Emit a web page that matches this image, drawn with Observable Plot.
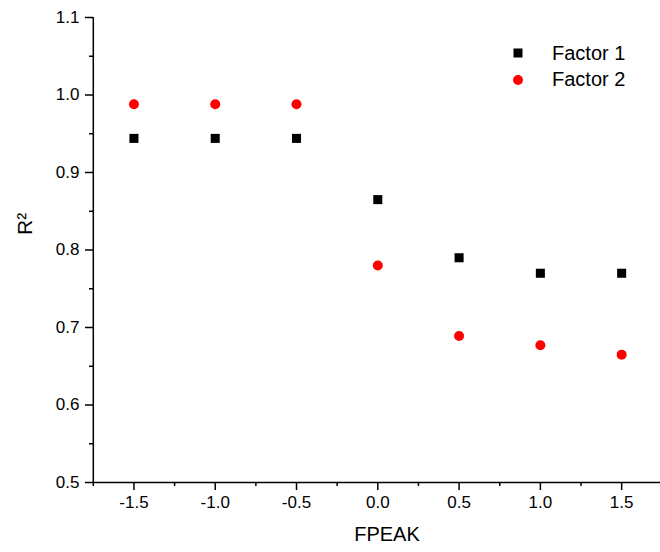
<!DOCTYPE html>
<html>
<head>
<meta charset="utf-8">
<script src="https://cdn.jsdelivr.net/npm/d3@7"></script>
<script src="https://cdn.jsdelivr.net/npm/@observablehq/plot@0.6"></script>
<style>
  html, body { margin: 0; padding: 0; background: #fff; }
  #wrap { position: relative; width: 660px; height: 552px; overflow: hidden; font-family: "Liberation Sans", Arial, sans-serif; }
  #legend { position: absolute; left: 508px; top: 40px; font-size: 20px; color: #000; }
  #legend .row { display: flex; align-items: center; height: 26.5px; }
  #legend svg { width: 20px; height: 20px; margin-right: 24px; }
</style>
</head>
<body>
<div id="wrap"></div>
<script>
const fpeak = [-1.5, -1.0, -0.5, 0.0, 0.5, 1.0, 1.5];
const factor1 = [0.944, 0.944, 0.944, 0.865, 0.790, 0.770, 0.770];
const factor2 = [0.988, 0.988, 0.988, 0.780, 0.689, 0.677, 0.665];
const seriesNames = ["Factor 1", "Factor 2"];
const seriesColors = ["#000000", "#ff0000"];
const xMajor = [-1.5, -1.0, -0.5, 0.0, 0.5, 1.0, 1.5];
const xMinor = [-1.75, -1.25, -0.75, -0.25, 0.25, 0.75, 1.25];
const yMajor = [0.5, 0.6, 0.7, 0.8, 0.9, 1.0, 1.1];
const yMinor = [0.55, 0.65, 0.75, 0.85, 0.95, 1.05];

const rows1 = fpeak.map((x, i) => ({x, y: factor1[i]}));
const rows2 = fpeak.map((x, i) => ({x, y: factor2[i]}));
const fmt = d => d.toFixed(1);

const chart = Plot.plot({
  width: 660,
  height: 552,
  marginTop: 17,
  marginBottom: 70,
  marginLeft: 93,
  marginRight: 0,
  style: {fontFamily: "Liberation Sans, Arial, sans-serif", fontSize: "17px", background: "#fff", color: "#000", overflow: "visible"},
  x: {domain: [-1.75, 1.75], range: [92.8, 661.8]},
  y: {domain: [0.5, 1.1]},
  marks: [
    Plot.axisX({ticks: xMajor, tickSize: 8, tickPadding: 5, tickFormat: fmt, fontSize: 17, label: null, stroke: "#000", strokeWidth: 1.5}),
    Plot.axisX({ticks: xMinor, tickSize: 4, tickFormat: () => "", label: null, stroke: "#000", strokeWidth: 1.5}),
    Plot.axisY({ticks: yMajor, tickSize: 8, tickPadding: 6, tickFormat: fmt, fontSize: 17, label: null, stroke: "#000", strokeWidth: 1.5}),
    Plot.axisY({ticks: yMinor, tickSize: 4, tickFormat: () => "", label: null, stroke: "#000", strokeWidth: 1.5}),
    Plot.ruleX([-1.75], {stroke: "#000", strokeWidth: 1.5}),
    Plot.ruleY([0.5], {stroke: "#000", strokeWidth: 1.5}),
    Plot.dot(rows1, {x: "x", y: "y", symbol: "square", r: 5.1, fill: seriesColors[0], stroke: "none"}),
    Plot.dot(rows2, {x: "x", y: "y", symbol: "circle", r: 5, fill: seriesColors[1], stroke: "none"}),
    Plot.text(["FPEAK"], {frameAnchor: "bottom", dx: 10, dy: 58, fontSize: 20, fill: "#000"}),
    Plot.text(["R²"], {frameAnchor: "left", dx: -68, dy: -15, rotate: -90, fontSize: 21, fill: "#000"})
  ]
});
document.getElementById("wrap").appendChild(chart);

const legend = document.createElement("div");
legend.id = "legend";
seriesNames.forEach((name, i) => {
  const row = document.createElement("div");
  row.className = "row";
  const sym = i === 0
    ? `<svg viewBox="0 0 20 20"><rect x="5.5" y="5.5" width="9" height="9" fill="${seriesColors[i]}"/></svg>`
    : `<svg viewBox="0 0 20 20"><circle cx="10" cy="10" r="5" fill="${seriesColors[i]}"/></svg>`;
  row.innerHTML = sym + `<span>${name}</span>`;
  legend.appendChild(row);
});
document.getElementById("wrap").appendChild(legend);
</script>
</body>
</html>
